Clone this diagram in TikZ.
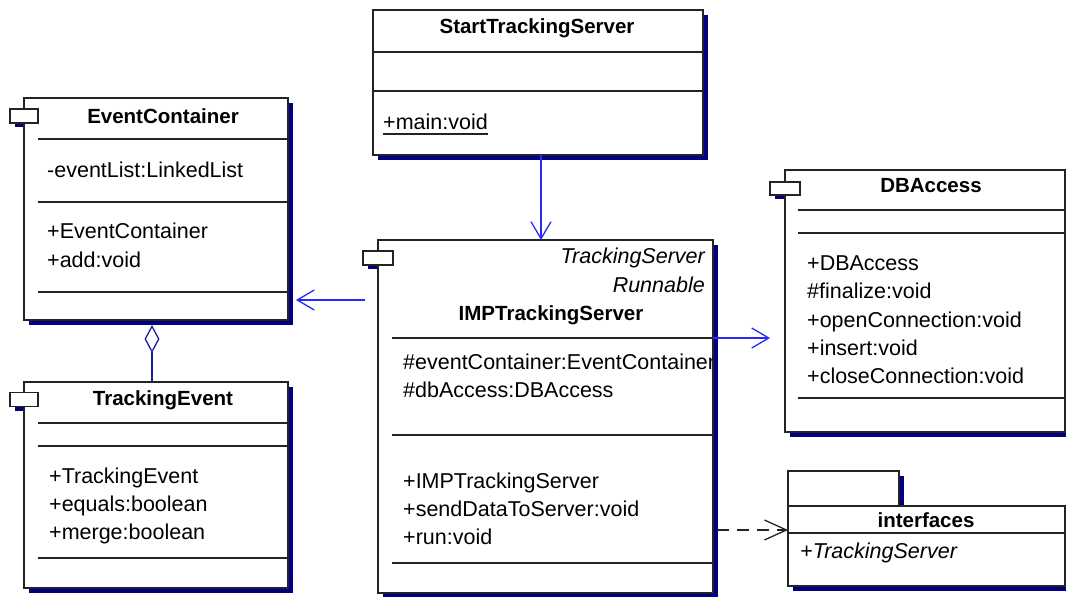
\documentclass[tikz,border=0pt]{standalone}
\usepackage{fontspec}
\setmainfont{Liberation Sans}
\usetikzlibrary{arrows.meta,shadows,calc}
\definecolor{navy}{RGB}{0,0,128}
\definecolor{umlblue}{RGB}{40,40,255}
\definecolor{aggblue}{RGB}{30,30,150}
\definecolor{border}{RGB}{35,35,35}
\begin{document}
\begin{tikzpicture}[x=1pt,y=-1pt,
  cls/.style={draw=border, line width=1.6pt, fill=white, rectangle, inner sep=0pt, outer sep=0pt,
    general shadow={fill=navy, shadow xshift=5pt, shadow yshift=-5pt}},
  icon/.style={draw=border, line width=1.5pt, fill=white, rectangle, inner sep=0pt, outer sep=0pt,
    minimum width=28pt, minimum height=14pt},
  iconshadow/.style={fill=navy},
  sep/.style={draw=border, line width=1.3pt},
  txt/.style={anchor=base west, inner sep=0pt, font=\fontsize{21.5}{26}\selectfont},
  itx/.style={txt, font=\fontsize{21.5}{26}\selectfont\itshape},
  ttl/.style={anchor=base, inner sep=0pt, font=\fontsize{20.5}{25}\selectfont\bfseries},
  nav/.style={draw=umlblue, line width=1.3pt, -{Straight Barb[length=17pt,width=20pt]}},
  dep/.style={draw=border, line width=1.3pt, dash pattern=on 12pt off 8pt, -{Straight Barb[length=22pt,width=20pt]}},
  agg/.style={draw=aggblue, line width=1.3pt, -{Diamond[open,length=28pt,width=15pt]}}
]
\useasboundingbox (0,0) rectangle (1066,597);

% icon shadows (behind the class boxes)
\fill[iconshadow] (15,113) rectangle (43,127);
\fill[iconshadow] (15,396.5) rectangle (43,410.5);
\fill[iconshadow] (368,255) rectangle (398,269);
\fill[iconshadow] (775,186) rectangle (805,199);

% ---------- EventContainer
\node[cls, minimum width=264pt, minimum height=222pt] (ec) at (156,209) {};
\node[icon] (eci) at (24,116) {};
\node[ttl] (ect) at (163,123) {EventContainer};
\draw[sep] (38,139) -- (288,139);
\draw[sep] (38,202) -- (288,202);
\draw[sep] (38,292) -- (288,292);
\node[txt] (ec1) at (47,177) {-eventList:LinkedList};
\node[txt] (ec2) at (47,238) {+EventContainer};
\node[txt] (ec3) at (47,267) {+add:void};

% ---------- TrackingEvent
\node[cls, minimum width=264pt, minimum height=206pt] (te) at (156,485) {};
\node[icon] (tei) at (24,399.5) {};
\node[ttl] (tet) at (163,405) {TrackingEvent};
\draw[sep] (38,423) -- (288,423);
\draw[sep] (38,446) -- (288,446);
\draw[sep] (38,558) -- (288,558);
\node[txt] (te1) at (49,483) {+TrackingEvent};
\node[txt] (te2) at (49,511) {+equals:boolean};
\node[txt] (te3) at (49,539) {+merge:boolean};

% ---------- StartTrackingServer
\node[cls, minimum width=330pt, minimum height=145pt] (sts) at (538,82.5) {};
\node[ttl] (stst) at (537,33) {StartTrackingServer};
\draw[sep] (373,52) -- (703,52);
\draw[sep] (373,91) -- (703,91);
\node[txt] (mv) at (383,129) {+main:void};
\draw[border, line width=1.2pt] ([yshift=-5pt]mv.base west) -- ([yshift=-5pt]mv.base east);

% ---------- IMPTrackingServer
\node[cls, minimum width=335pt, minimum height=353pt] (imp) at (545.5,416.5) {};
\node[icon, minimum width=30pt] (impi) at (378,258) {};
\node[itx, anchor=base east] (imps1) at (705,263) {TrackingServer};
\node[itx, anchor=base east] (imps2) at (705,292) {Runnable};
\node[ttl] (impt) at (551,320) {IMPTrackingServer};
\draw[sep] (392,338) -- (713,338);
\draw[sep] (392,435) -- (713,435);
\draw[sep] (392,563) -- (713,563);
\begin{scope}
\clip (380,240) rectangle (712,593);
\node[txt] (imp1) at (403,369) {\#eventContainer:EventContainer};
\end{scope}
\node[txt] (imp2) at (403,397) {\#dbAccess:DBAccess};
\node[txt] (imp3) at (403,488) {+IMPTrackingServer};
\node[txt] (imp4) at (403,516) {+sendDataToServer:void};
\node[txt] (imp5) at (403,544) {+run:void};

% ---------- DBAccess
\node[cls, minimum width=280pt, minimum height=262pt] (db) at (925,301) {};
\node[icon, minimum width=30pt, minimum height=13pt] (dbi) at (785,188.5) {};
\node[ttl] (dbt) at (931,192) {DBAccess};
\draw[sep] (798,210) -- (1065,210);
\draw[sep] (798,233) -- (1065,233);
\draw[sep] (798,398) -- (1065,398);
\node[txt] (db1) at (807,270) {+DBAccess};
\node[txt] (db2) at (807,298) {\#finalize:void};
\node[txt] (db3) at (807,327) {+openConnection:void};
\node[txt] (db4) at (807,355) {+insert:void};
\node[txt] (db5) at (807,383) {+closeConnection:void};

% ---------- interfaces package
\node[cls, minimum width=111pt, minimum height=35pt] (ift) at (843.5,488.5) {};
\node[cls, minimum width=277pt, minimum height=80pt] (ifc) at (926.5,546) {};
\node[ttl] (ifct) at (926,527) {interfaces};
\draw[sep] (788,533) -- (1065,533);
\node[itx] (ifc1) at (800,558) {+TrackingServer};

% ---------- connectors
\draw[nav] ([xshift=3pt]sts.south) -- ([xshift=-4.5pt]imp.north);
\draw[nav] ($(imp.west |- 0,300)+(-13,0)$) -- ($(ec.east |- 0,300)+(8,0)$);
\draw[nav] (imp.east |- 0,338) -- ($(db.west |- 0,338)+(-15,0)$);
\draw[dep] ($(imp.east |- 0,530)+(4,0)$) -- (ifc.west |- 0,530);
\draw[agg] ([xshift=-4pt]te.north) -- ([xshift=-4pt,yshift=-5pt]ec.south);
\end{tikzpicture}
\end{document}
